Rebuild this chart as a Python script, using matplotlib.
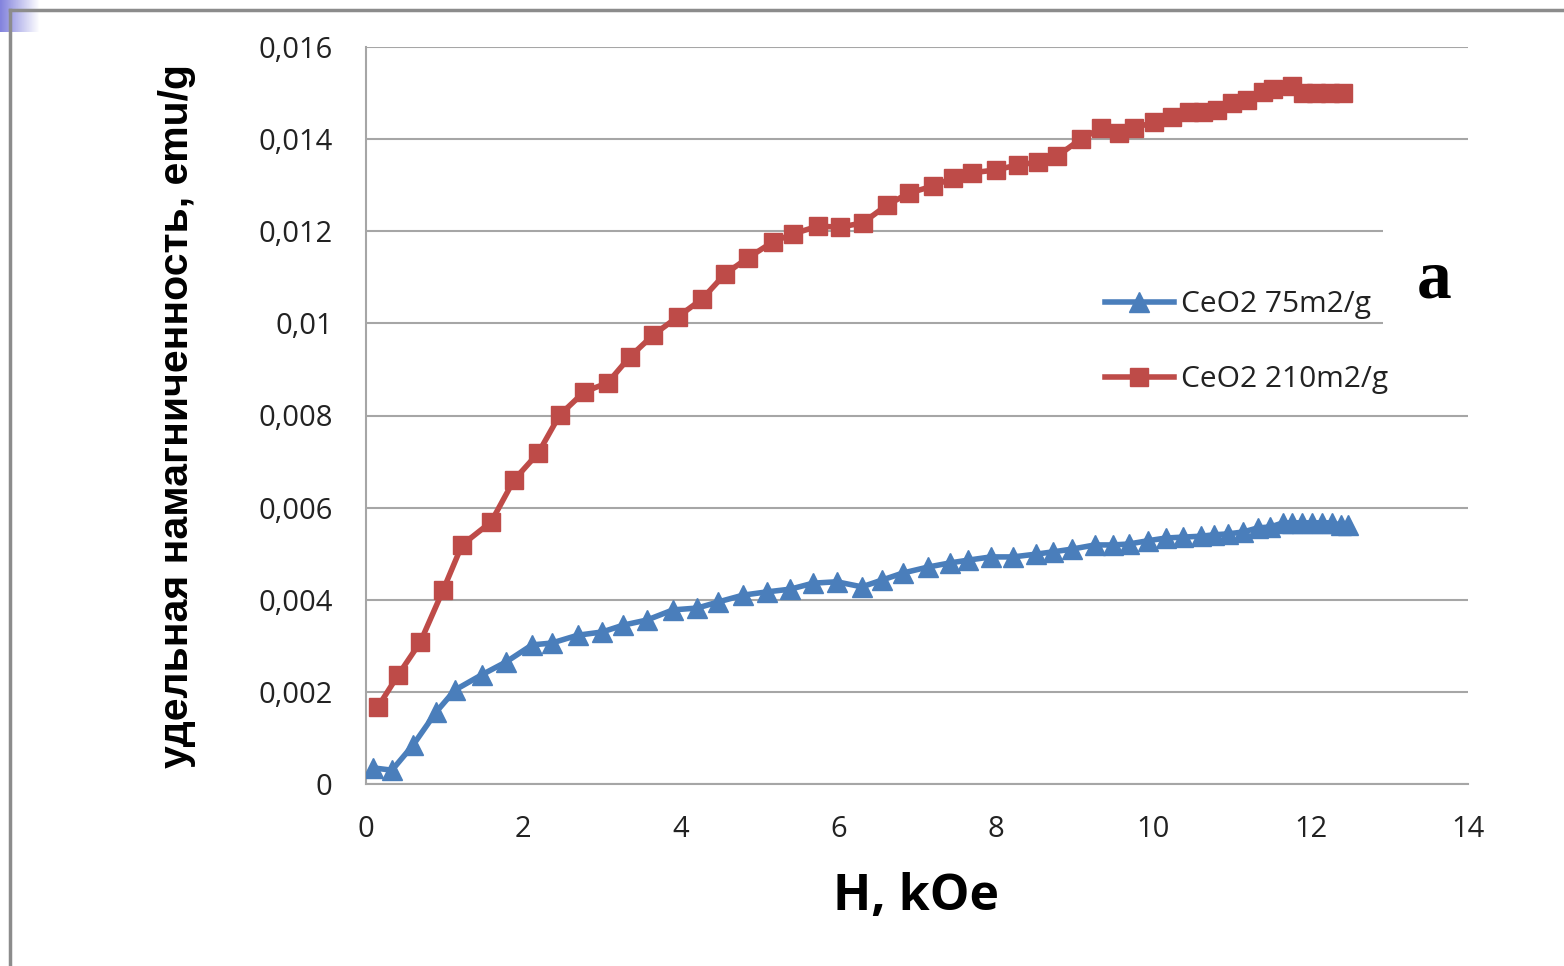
import matplotlib
matplotlib.use("Agg")
import matplotlib.pyplot as plt
import numpy as np
from matplotlib.patches import Rectangle
from matplotlib.lines import Line2D

# ДАННЫЕ
h_75 = [0.09, 0.33, 0.60, 0.89, 1.13, 1.47, 1.78, 2.11, 2.36, 2.69, 3.00, 3.27,
        3.57, 3.90, 4.21, 4.47, 4.79, 5.09, 5.39, 5.68, 5.98, 6.30, 6.56, 6.82,
        7.14, 7.42, 7.65, 7.94, 8.22, 8.51, 8.73, 8.97, 9.26, 9.49, 9.69, 9.93,
        10.16, 10.38, 10.61, 10.77, 10.95, 11.14, 11.33, 11.49, 11.65, 11.77,
        11.89, 12.02, 12.15, 12.27, 12.39, 12.48]
m_75 = [0.00035, 0.00030, 0.00085, 0.00156, 0.00204, 0.00237, 0.00265, 0.00302,
        0.00306, 0.00323, 0.00330, 0.00345, 0.00356, 0.00378, 0.00382, 0.00395,
        0.00410, 0.00417, 0.00423, 0.00436, 0.00439, 0.00428, 0.00443, 0.00458,
        0.00471, 0.00480, 0.00486, 0.00493, 0.00493, 0.00499, 0.00504, 0.00510,
        0.00519, 0.00519, 0.00521, 0.00528, 0.00534, 0.00536, 0.00538, 0.00541,
        0.00543, 0.00547, 0.00556, 0.00558, 0.00567, 0.00567, 0.00567, 0.00567,
        0.00567, 0.00567, 0.00562, 0.00562]

h_210 = [0.15, 0.41, 0.69, 0.98, 1.22, 1.59, 1.88, 2.19, 2.46, 2.77, 3.07, 3.35,
         3.65, 3.96, 4.27, 4.56, 4.85, 5.17, 5.42, 5.74, 6.02, 6.31, 6.62, 6.90,
         7.20, 7.46, 7.70, 8.00, 8.28, 8.54, 8.78, 9.08, 9.34, 9.57, 9.76, 10.01,
         10.24, 10.46, 10.63, 10.81, 11.00, 11.19, 11.40, 11.52, 11.76, 11.90,
         12.07, 12.25, 12.41]
m_210 = [0.00167, 0.00237, 0.00308, 0.00421, 0.00519, 0.00569, 0.00660, 0.00719,
         0.00801, 0.00851, 0.00871, 0.00927, 0.00975, 0.01014, 0.01053, 0.01107,
         0.01142, 0.01177, 0.01194, 0.01211, 0.01209, 0.01218, 0.01257, 0.01283,
         0.01298, 0.01316, 0.01327, 0.01333, 0.01344, 0.01350, 0.01363, 0.01400,
         0.01424, 0.01413, 0.01424, 0.01437, 0.01448, 0.01459, 0.01459, 0.01463,
         0.01479, 0.01485, 0.01502, 0.01509, 0.01515, 0.01500, 0.01500, 0.01500,
         0.01500]

series_names = ["CeO2 75m2/g", "CeO2 210m2/g"]
x_ticks = [0, 2, 4, 6, 8, 10, 12, 14]
y_ticks = [0, 0.002, 0.004, 0.006, 0.008, 0.010, 0.012, 0.014, 0.016]
y_tick_labels = ["0", "0,002", "0,004", "0,006", "0,008", "0,01", "0,012", "0,014", "0,016"]

BLUE = "#4a7ebb"
RED = "#be4b48"
GRID = "#a6a6a6"

fig = plt.figure(figsize=(15.64, 9.66), dpi=100)
ax = fig.add_axes([366 / 1564, 1 - 784 / 966, 1102 / 1564, 737 / 966])

ax.plot(h_75, m_75, color=BLUE, lw=4, marker="^", ms=15, mec=BLUE, mfc=BLUE, label=series_names[0], zorder=3)
ax.plot(h_210, m_210, color=RED, lw=4, marker="s", ms=13, mec=RED, mfc=RED, label=series_names[1], zorder=3)

ax.set_xlim(0, 14)
ax.set_ylim(0, 0.016)
ax.set_xticks(x_ticks)
ax.set_yticks(y_ticks)
ax.set_yticklabels(y_tick_labels)
ax.tick_params(length=0, labelsize=21, pad=24, labelcolor="#222222")
ax.tick_params(axis="x", pad=22)
for lab in ax.get_xticklabels() + ax.get_yticklabels():
    lab.set_fontfamily("Open Sans")
ax.grid(axis="y", color=GRID, lw=1.5, zorder=0)
ax.set_axisbelow(True)
for s in ["top", "right"]:
    ax.spines[s].set_visible(False)
ax.spines["left"].set_color(GRID)
ax.spines["bottom"].set_color(GRID)
ax.spines["left"].set_linewidth(1.5)
ax.spines["bottom"].set_linewidth(1.5)

# подписи осей
fig.text(177 / 1564, 1 - 416 / 966, "удельная намагниченность, emu/g", rotation=90,
         ha="center", va="center", fontsize=29.5, fontweight="bold",
         family=["Liberation Sans Narrow", "Liberation Sans", "DejaVu Sans"])
fig.text(916 / 1564, 1 - 897 / 966, "H, kOe", ha="center", va="center",
         fontsize=36, fontweight="bold", family="Open Sans")

# белая плашка под буквой "a"
ax.add_patch(Rectangle((0.923, 0.61), 0.09, 0.15, transform=ax.transAxes,
                       facecolor="white", edgecolor="none", zorder=1, clip_on=False))
fig.text(1434 / 1564, 1 - 280 / 966, "a", ha="center", va="center", fontsize=50,
         fontweight="bold", family="Liberation Serif")

leg = ax.legend(loc="upper left", bbox_to_anchor=(1105 / 1564, 1 - 290 / 966),
                bbox_transform=fig.transFigure, frameon=False,
                handlelength=2.3, handletextpad=0.25, labelspacing=1.55,
                borderpad=0, borderaxespad=0, prop={"family": "Open Sans", "size": 21.5})
for t in leg.get_texts():
    t.set_color("#222222")

# рамка слайда
fig.add_artist(Line2D([10 / 1564, 10 / 1564], [0, 1 - 10 / 966], transform=fig.transFigure,
                      color="#8c8c8c", lw=2.5))
fig.add_artist(Line2D([10 / 1564, 1], [1 - 10 / 966, 1 - 10 / 966], transform=fig.transFigure,
                      color="#8c8c8c", lw=2.5))
corner = fig.add_axes([0, 1 - 32 / 966, 40 / 1564, 32 / 966])
grad = np.linspace(0, 1, 40)[None, :]
corner.imshow(np.repeat(grad, 32, axis=0), cmap=matplotlib.colors.LinearSegmentedColormap.from_list("c", ["#8383dd", "#ffffff"]),
              aspect="auto")
corner.axis("off")

fig.savefig("out.png", dpi=100)
